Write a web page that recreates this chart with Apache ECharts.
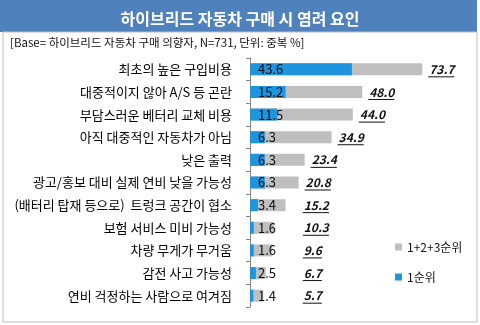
<!DOCTYPE html>
<html>
<head>
<meta charset="utf-8">
<script src="https://cdn.jsdelivr.net/npm/echarts@6/dist/echarts.min.js"></script>
<style>
  html, body { margin: 0; padding: 0; background: #fff; }
  #chart { width: 480px; height: 325px; }
</style>
</head>
<body>
<div id="chart"></div>
<script>
// Concerns when buying a hybrid car (multiple answers, %)
const categories = [
  '최초의 높은 구입비용',
  '대중적이지 않아 A/S 등 곤란',
  '부담스러운 베터리 교체 비용',
  '아직 대중적인 자동차가 아님',
  '낮은 출력',
  '광고/홍보 대비 실제 연비 낮을 가능성',
  '(배터리 탑재 등으로)  트렁크 공간이 협소',
  '보험 서비스 미비 가능성',
  '차량 무게가 무거움',
  '감전 사고 가능성',
  '연비 걱정하는 사람으로 여겨짐'
];
const firstRank = [43.6, 15.2, 11.5, 6.3, 6.3, 6.3, 3.4, 1.6, 1.6, 2.5, 1.4];
const topThree = [73.7, 48.0, 44.0, 34.9, 23.4, 20.8, 15.2, 10.3, 9.6, 6.7, 5.7];
const seriesNames = ['1+2+3순위', '1순위'];

const FONT = '"Noto Sans CJK KR", "Noto Sans", sans-serif';
const BLUE = '#1E94DC';
const GREY = '#BFBFBF';
const totalFont = 'italic bold 12px ' + FONT;

const measureCtx = document.createElement('canvas').getContext('2d');
function textWidth(str, font) {
  measureCtx.font = font;
  return measureCtx.measureText(str).width;
}

const chart = echarts.init(document.getElementById('chart'), null, { renderer: 'canvas' });

chart.setOption({
  animation: false,
  backgroundColor: '#fff',
  title: {
    text: '하이브리드 자동차 구매 시 염려 요인',
    left: 'center',
    top: 6,
    textStyle: { color: '#fff', fontSize: 16, fontWeight: 'bold', fontFamily: FONT }
  },
  graphic: [
    { type: 'rect', z: -10, shape: { x: 0, y: 0, width: 477, height: 32 }, style: { fill: '#4F81BD' } },
    { type: 'rect', z: -10, shape: { x: 3, y: 32, width: 474, height: 290 }, style: { fill: 'none', stroke: '#BDBDBD', lineWidth: 1 } },
    {
      type: 'text', left: 10, top: 37,
      style: { text: '[Base= 하이브리드 자동차 구매 의향자, N=731, 단위: 중복 %]', font: '11.5px ' + FONT, fill: '#111' }
    }
  ],
  legend: {
    orient: 'vertical',
    left: 390,
    top: 236,
    itemWidth: 7,
    itemHeight: 7,
    itemGap: 18,
    icon: 'rect',
    data: seriesNames,
    textStyle: { fontSize: 12, color: '#111', fontFamily: FONT }
  },
  grid: { left: 250, top: 58, width: 187, height: 249, containLabel: false },
  xAxis: { type: 'value', min: 0, max: 80, show: false },
  yAxis: {
    type: 'category',
    inverse: true,
    data: categories,
    axisLine: { show: true, lineStyle: { color: '#868686', width: 1 } },
    axisTick: { show: true, length: 4, lineStyle: { color: '#868686' } },
    axisLabel: { margin: 18, fontSize: 13, color: '#000', fontFamily: FONT }
  },
  series: [
    {
      name: seriesNames[0],
      type: 'bar',
      data: topThree,
      barWidth: 12,
      barGap: '-100%',
      itemStyle: { color: GREY },
      silent: true
    },
    {
      name: seriesNames[1],
      type: 'bar',
      data: firstRank,
      barWidth: 12,
      itemStyle: { color: BLUE },
      label: {
        show: true,
        position: 'insideLeft',
        distance: 8,
        formatter: p => p.value.toFixed(1),
        fontSize: 13,
        color: '#111',
        fontFamily: FONT
      },
      silent: true
    },
    {
      // underlined italic totals to the right of the grey bars
      type: 'custom',
      data: topThree.map((v, i) => [v, i]),
      encode: { x: 0, y: 1 },
      silent: true,
      z: 5,
      renderItem: function (params, api) {
        const v = api.value(0);
        const c = api.value(1);
        const end = api.coord([v, c]);
        const floor = api.coord([23, c]);
        const x = Math.max(end[0] + 7, floor[0]);
        const y = end[1];
        const txt = v.toFixed(1);
        const w = textWidth(txt, totalFont) + 1;
        return {
          type: 'group',
          children: [
            {
              type: 'text',
              style: { x: x, y: y, text: txt, font: totalFont, fill: '#111', align: 'left', verticalAlign: 'middle' }
            },
            {
              type: 'rect',
              shape: { x: x - 1, y: y + 7, width: w, height: 1 },
              style: { fill: '#111' }
            }
          ]
        };
      }
    }
  ]
});
</script>
</body>
</html>
